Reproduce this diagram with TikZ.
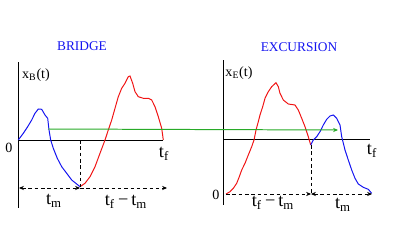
\documentclass[tikz,border=0pt]{standalone}
\usepackage{fontspec}
\setmainfont{Liberation Serif}
\usepackage{tikz}
\usetikzlibrary{arrows.meta}
\definecolor{cPath}{RGB}{20,20,240}
\definecolor{cRet}{RGB}{240,20,20}
\definecolor{cMap}{RGB}{40,170,40}
\newcommand{\tsub}[2]{#1\textsubscript{#2}}

\begin{document}
\begin{tikzpicture}[
    x=0.025cm, y=-0.025cm,
    axis/.style={line width=0.7pt},
    walk/.style={line width=0.7pt},
    guide/.style={dashed,line width=0.6pt,dash pattern=on 2.5pt off 2pt},
    title/.style={text=cPath,font=\fontsize{9.5}{11}\selectfont},
    tlabel/.style={font=\fontsize{13}{15}\selectfont,inner sep=1pt},
    vlabel/.style={font=\normalsize,inner sep=1pt},
    >={Stealth[length=3.5pt,width=3pt]}
  ]
  \useasboundingbox (0,0) rectangle (407,250);
  % bridge
  \coordinate (oB) at (18,140);
  \coordinate (yBtop) at (18,62);
  \coordinate (yBbot) at (18,208);
  \coordinate (xBend) at (163,140);
  \coordinate (mB) at (80,187);
  \coordinate (mBax) at (80,140);
  \coordinate (lB) at (19,188);
  \coordinate (rB) at (167,188);
  \node[title] (tB) at (82,46) {BRIDGE};
  \node[vlabel] (yB) at (36,75) {\tsub{x}{B}(t)};
  \node[vlabel] (zB) at (9,148) {0};
  \node[tlabel] (fB) at (164,154) {\tsub{t}{f}};
  \node[tlabel] (mlB) at (54,201) {\tsub{t}{m}};
  \node[tlabel] (rlB) at (126,202) {\tsub{t}{f}\,−\,\tsub{t}{m}};
  \draw[axis] (yBtop) -- (yBbot);
  \draw[axis] (oB) -- (xBend);
  \draw[walk,cPath] plot coordinates {(18.3,140) (23.3,133.3) (27.3,127.3) (31.7,120) (35,113.3)
    (38.3,109) (41.7,109.3) (45,115) (47.7,118.3) (49,130) (50.7,140) (53.3,148.3) (57.3,158.3)
    (61.7,166.7) (66.7,173.3) (71.7,180) (76.7,184) (80,186.7)};
  \draw[walk,cRet] plot coordinates {(80,186.7) (85,183.3) (90,176.7) (95,166.7) (100,153.3)
    (105,140) (108.3,130) (111.7,120) (115,108.3) (118.3,96.7) (121.7,88.3) (125,83.3)
    (128.3,76.7) (130,76) (132.7,83.3) (135,91.7) (138.3,96.7) (143.3,98.3) (148.3,98.3)
    (151.7,100) (155,106.7) (158.3,116.7) (161.7,128.3) (163.3,140)};
  \draw[guide] (mBax) -- (mB);
  \draw[guide,<->] (lB) -- (mB |- lB);
  \draw[guide,->] (mB |- lB) -- (rB);

  % excursion
  \coordinate (oE) at (223,194);
  \coordinate (yEtop) at (223,60);
  \coordinate (yEbot) at (223,205);
  \coordinate (aE) at (223,139);
  \coordinate (xEend) at (370,139);
  \coordinate (mE) at (311,145);
  \coordinate (lE) at (226,194);
  \coordinate (rE) at (372,194);
  \node[title] (tE) at (299,47) {EXCURSION};
  \node[vlabel] (yE) at (239,73) {\tsub{x}{E}(t)};
  \node[vlabel] (zE) at (216,195) {0};
  \node[tlabel] (fE) at (372,151) {\tsub{t}{f}};
  \node[tlabel] (mlE) at (273,203) {\tsub{t}{f}\,−\,\tsub{t}{m}};
  \node[tlabel] (rlE) at (343,205) {\tsub{t}{m}};
  \draw[axis] (yEtop) -- (yEbot);
  \draw[axis] (aE) -- (xEend);
  \draw[walk,cRet] plot coordinates {(226,194) (230,191.7) (233.3,188.3) (236.7,183.3)
    (239.3,176.7) (241.7,170) (245,163.3) (248.3,155) (251.7,146.7) (254,140) (256,130)
    (258.3,121.7) (260,115) (262.7,106.7) (265,98.3) (268.3,91.7) (271.7,86.7) (276,82.7)
    (278.3,86.7) (280,93.3) (283.3,100) (288.3,104) (295,105) (298.3,110) (301.7,118.3)
    (305,126.7) (308.3,136.7) (310.7,145)};
  \draw[walk,cPath] plot coordinates {(310.7,145) (313.3,140) (316.7,136.7) (320,131.7)
    (323.3,125) (326.7,119.3) (330,116) (333.3,115) (336.7,118.3) (340,125) (341.7,136.7)
    (345,150) (348.3,160) (351.7,170) (355,178.3) (358.3,184) (363.3,187.3) (368.3,189.3)
    (371.7,193.3)};
  \draw[guide] (mE) -- (mE |- lE);
  \draw[guide,->] (lE) -- (mE |- lE);
  \draw[guide,<->] (mE |- lE) -- (rE);

  % mapping
  \coordinate (gB) at (48,129);
  \coordinate (gE) at (338,130);
  \draw[walk,cMap,->] (gB) -- (gE);
\end{tikzpicture}
\end{document}
